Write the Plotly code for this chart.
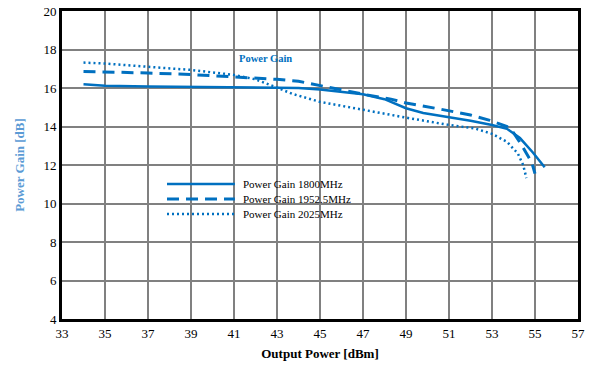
import plotly.graph_objects as go

x_1800 = [34, 35, 37, 39, 41, 43, 44, 45, 46, 47, 48, 49, 49.8, 51, 52, 53, 53.7, 54.3, 54.9, 55.45]
g_1800 = [16.19, 16.12, 16.08, 16.06, 16.05, 16.04, 16.0, 15.92, 15.8, 15.67, 15.42, 14.95, 14.7, 14.5, 14.3, 14.08, 13.88, 13.4, 12.65, 11.88]

x_1952 = [34, 35, 37, 39, 41, 43, 44, 45, 46, 47, 48.3, 49, 50.6, 52, 52.9, 53.7, 54.0, 54.4, 54.86, 55.0]
g_1952 = [16.86, 16.84, 16.78, 16.7, 16.58, 16.45, 16.35, 16.12, 15.9, 15.68, 15.42, 15.22, 14.9, 14.6, 14.32, 14.0, 13.68, 13.0, 12.1, 11.55]

x_2025 = [34, 35, 37, 39, 41, 42, 43, 43.7, 45, 47, 49, 51, 52.2, 53, 53.7, 54.2, 54.45, 54.6]
g_2025 = [17.32, 17.27, 17.1, 16.94, 16.68, 16.45, 16.02, 15.7, 15.28, 14.86, 14.46, 14.08, 13.9, 13.62, 13.2, 12.6, 12.0, 11.32]

names = ["Power Gain 1800MHz", "Power Gain 1952.5MHz", "Power Gain 2025MHz"]
dashes = ["solid", "12px,7px", "2px,3px"]
widths = [2.5, 3, 2.5]
x_ticks = list(range(33, 58, 2))
y_ticks = list(range(4, 21, 2))

blue = "#0070C0"
font = "Liberation Serif, Times New Roman, serif"

fig = go.Figure()
for xs, ys, nm, ds, w in zip([x_1800, x_1952, x_2025], [g_1800, g_1952, g_2025], names, dashes, widths):
    fig.add_trace(go.Scatter(x=xs, y=ys, mode="lines", name=nm, showlegend=False,
                             line=dict(color=blue, width=w, dash=ds)))

# white legend box (covers gridlines)
fig.add_shape(type="rect", xref="x", yref="y", x0=36.77, x1=47.23, y0=9.04, y1=11.38,
              fillcolor="white", line=dict(width=0), layer="below")

# legend entries
leg_y = [0.438, 0.390, 0.341]
for yy, nm, ds, w in zip(leg_y, names, dashes, widths):
    fig.add_shape(type="line", xref="paper", yref="paper", x0=0.2035, x1=0.335, y0=yy, y1=yy,
                  line=dict(color=blue, width=w, dash=ds))
    fig.add_annotation(text=nm, xref="paper", yref="paper", x=0.347, y=yy,
                       xanchor="left", yanchor="middle", showarrow=False,
                       font=dict(family=font, size=11, color="black"))

fig.add_annotation(text="<b>Power Gain</b>", x=41.15, y=17.55, xref="x", yref="y",
                   xanchor="left", yanchor="middle", showarrow=False,
                   font=dict(family=font, size=10.5, color=blue))

axis_common = dict(showgrid=True, gridcolor="#808080", gridwidth=2,
                   showline=True, linecolor="black", linewidth=3, mirror=True,
                   zeroline=False, tickfont=dict(family=font, size=13, color="black"),
                   ticks="", automargin=False)

fig.update_xaxes(range=[33, 57], tickvals=x_ticks, **axis_common,
                 title=dict(text="<b>Output Power [dBm]</b>", standoff=10,
                            font=dict(family=font, size=13, color="black")))
fig.update_yaxes(range=[4, 20], tickvals=y_ticks, **axis_common,
                 title=dict(text="<b>Power Gain [dB]</b>", standoff=16,
                            font=dict(family=font, size=13, color="#5B9BD5")))

fig.update_layout(
    width=589, height=369,
    margin=dict(l=62, r=11, t=11, b=50),
    plot_bgcolor="white", paper_bgcolor="white",
    showlegend=False,
)

fig.write_html("out.html", config={"displayModeBar": False},
               post_script="document.body.style.margin='0';")
